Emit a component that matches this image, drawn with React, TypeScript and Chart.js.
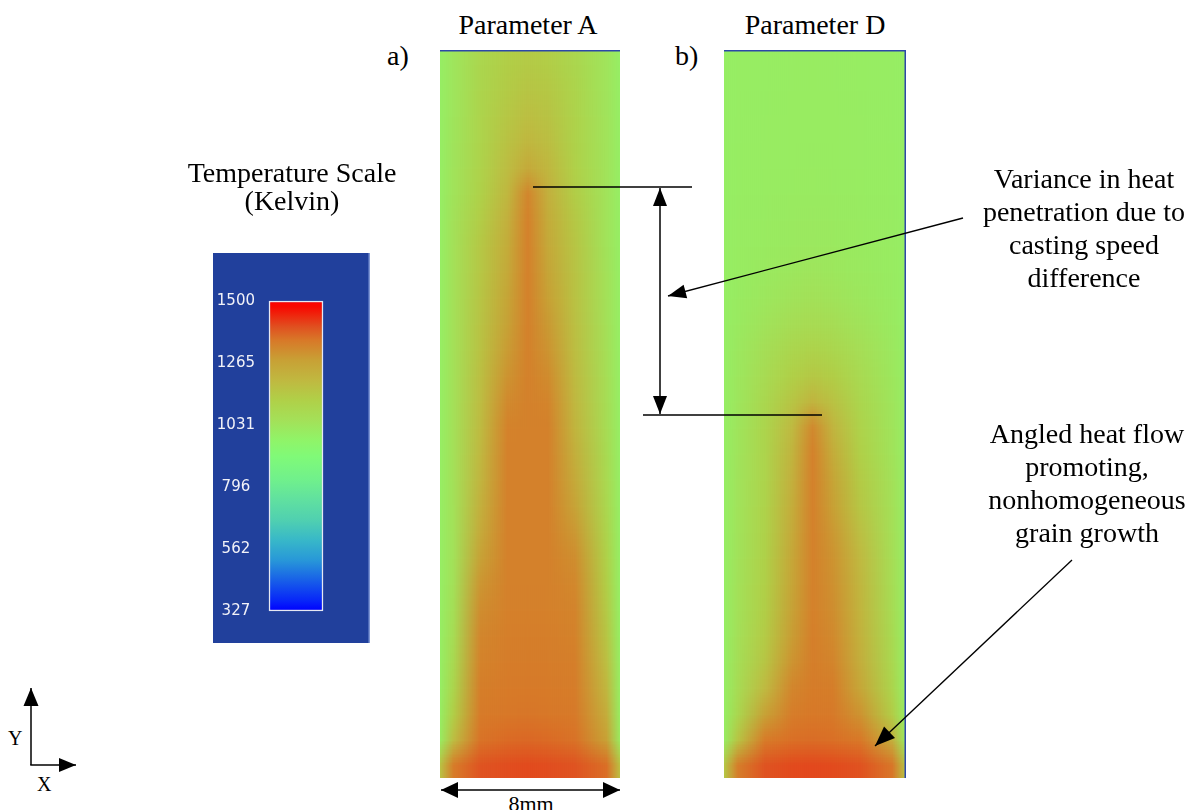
import React, { useEffect, useRef } from 'react';
import { Chart, registerables } from 'chart.js';

Chart.register(...registerables);

// ---------- data ----------
const PANEL_WIDTH_MM = 8;
// sample positions across each panel (mm from the left edge)
const X_MM = [0, 0.6, 1.8, 3, 3.9, 4.8, 6, 7.4, 8];

// Parameter A: temperature (K) per row (top -> bottom) at X_MM positions
const TEMP_A = [
  [995, 1030, 1095, 1130, 1145, 1135, 1095, 1035, 995],
  [995, 1030, 1100, 1140, 1160, 1150, 1105, 1035, 995],
  [995, 1032, 1105, 1155, 1180, 1165, 1110, 1038, 995],
  [995, 1035, 1108, 1168, 1205, 1182, 1115, 1040, 995],
  [995, 1038, 1112, 1185, 1245, 1205, 1122, 1040, 995],
  [995, 1040, 1120, 1205, 1325, 1225, 1135, 1040, 995],
  [995, 1045, 1135, 1225, 1334, 1240, 1150, 1040, 995],
  [995, 1050, 1150, 1240, 1335, 1250, 1160, 1040, 995],
  [995, 1050, 1155, 1250, 1335, 1262, 1165, 1045, 995],
  [995, 1050, 1160, 1260, 1335, 1275, 1170, 1048, 995],
  [995, 1050, 1165, 1272, 1335, 1288, 1175, 1052, 995],
  [995, 1050, 1170, 1285, 1335, 1300, 1182, 1056, 995],
  [995, 1050, 1178, 1300, 1335, 1315, 1190, 1060, 995],
  [995, 1050, 1185, 1318, 1335, 1328, 1200, 1065, 995],
  [995, 1050, 1192, 1332, 1335, 1335, 1212, 1070, 995],
  [995, 1050, 1200, 1335, 1335, 1335, 1228, 1078, 995],
  [995, 1050, 1210, 1335, 1335, 1335, 1245, 1085, 995],
  [995, 1048, 1225, 1335, 1335, 1335, 1265, 1092, 995],
  [995, 1045, 1245, 1335, 1335, 1335, 1290, 1105, 995],
  [995, 1045, 1270, 1335, 1335, 1335, 1310, 1120, 995],
  [995, 1050, 1295, 1335, 1335, 1335, 1322, 1132, 995],
  [995, 1058, 1312, 1336, 1337, 1336, 1330, 1145, 995],
  [995, 1068, 1325, 1338, 1340, 1338, 1334, 1160, 998],
  [995, 1082, 1332, 1342, 1344, 1342, 1338, 1180, 1000],
  [995, 1100, 1340, 1346, 1348, 1346, 1342, 1205, 1002],
  [1000, 1130, 1346, 1352, 1355, 1352, 1348, 1235, 1006],
  [1005, 1185, 1358, 1368, 1372, 1368, 1360, 1275, 1015],
  [1170, 1345, 1398, 1405, 1408, 1405, 1398, 1365, 1180],
];

// Parameter D: temperature (K) per row (top -> bottom) at X_MM positions
const TEMP_D = [
  [995, 1000, 1002, 1004, 1005, 1004, 1002, 1000, 995],
  [995, 1000, 1002, 1004, 1005, 1004, 1002, 1000, 995],
  [995, 1000, 1003, 1005, 1006, 1005, 1003, 1000, 995],
  [995, 1000, 1003, 1005, 1006, 1005, 1003, 1000, 995],
  [995, 1001, 1004, 1006, 1008, 1006, 1004, 1001, 995],
  [995, 1002, 1005, 1008, 1010, 1008, 1005, 1002, 995],
  [995, 1003, 1008, 1012, 1014, 1012, 1008, 1003, 995],
  [995, 1004, 1010, 1016, 1018, 1016, 1010, 1004, 995],
  [995, 1005, 1015, 1025, 1030, 1025, 1015, 1005, 995],
  [995, 1008, 1025, 1040, 1048, 1040, 1025, 1008, 995],
  [995, 1012, 1040, 1065, 1075, 1065, 1040, 1012, 995],
  [995, 1018, 1058, 1095, 1110, 1095, 1060, 1018, 995],
  [995, 1022, 1075, 1125, 1150, 1130, 1080, 1025, 995],
  [995, 1028, 1090, 1160, 1215, 1170, 1095, 1030, 995],
  [995, 1032, 1100, 1195, 1320, 1210, 1110, 1035, 995],
  [995, 1035, 1105, 1215, 1334, 1240, 1125, 1040, 995],
  [995, 1037, 1108, 1225, 1335, 1260, 1140, 1045, 995],
  [995, 1038, 1110, 1235, 1335, 1275, 1155, 1050, 995],
  [995, 1040, 1115, 1245, 1335, 1290, 1175, 1055, 995],
  [995, 1042, 1120, 1255, 1335, 1300, 1195, 1060, 995],
  [995, 1045, 1125, 1262, 1335, 1305, 1205, 1065, 995],
  [995, 1048, 1132, 1270, 1336, 1310, 1212, 1070, 995],
  [995, 1052, 1142, 1282, 1338, 1318, 1220, 1078, 995],
  [995, 1058, 1160, 1300, 1340, 1328, 1232, 1088, 995],
  [995, 1068, 1195, 1325, 1344, 1340, 1255, 1102, 995],
  [998, 1090, 1270, 1342, 1350, 1348, 1300, 1135, 1000],
  [1002, 1160, 1345, 1362, 1366, 1362, 1350, 1225, 1008],
  [1150, 1340, 1398, 1408, 1410, 1408, 1400, 1355, 1160],
];

// temperature scale
const SCALE_TICKS = [1500, 1265, 1031, 796, 562, 327];
const SCALE_MIN = 327;
const SCALE_MAX = 1500;

// colour map (temperature -> colour)
const CMAP_T = [327, 369, 444, 520, 596, 671, 747, 823, 911, 974, 1050, 1125, 1201, 1277, 1352, 1402, 1478, 1500];
const CMAP_C = ['#0000ff', '#0828f8', '#1860e8', '#2898d8', '#38b8c8', '#50d0b0', '#60e0a0', '#70f08c', '#80fa78', '#90f468', '#a4e058', '#b0d048', '#c0b840', '#c8a035', '#d87828', '#e05020', '#f80800', '#ff0000'];

// ---------- helpers ----------
const toRgb = (h: string) => [parseInt(h.slice(1, 3), 16), parseInt(h.slice(3, 5), 16), parseInt(h.slice(5, 7), 16)];
const CMAP_RGB = CMAP_C.map(toRgb);

function tempColor(t: number): string {
  if (t <= CMAP_T[0]) return CMAP_C[0];
  for (let i = 1; i < CMAP_T.length; i++) {
    if (t <= CMAP_T[i]) {
      const f = (t - CMAP_T[i - 1]) / (CMAP_T[i] - CMAP_T[i - 1]);
      const a = CMAP_RGB[i - 1];
      const b = CMAP_RGB[i];
      const c = a.map((v, k) => Math.round(v + (b[k] - v) * f));
      return `rgb(${c[0]},${c[1]},${c[2]})`;
    }
  }
  return CMAP_C[CMAP_C.length - 1];
}

// Renders the row cells with bilinear shading between row centres (like a shaded heat map)
const softCells = {
  id: 'softCells',
  afterDatasetsDraw(chart: any) {
    const { ctx, chartArea: a, canvas } = chart;
    const meta = chart.getDatasetMeta(0);
    const n = meta.data.length;
    const w = Math.round(a.width);
    const h = Math.round(a.height);
    const off = document.createElement('canvas');
    off.width = w;
    off.height = n;
    const o = off.getContext('2d')!;
    o.imageSmoothingEnabled = false;
    o.drawImage(canvas, a.left, a.top, w, h, 0, 0, w, n);
    ctx.save();
    ctx.imageSmoothingEnabled = true;
    ctx.imageSmoothingQuality = 'low';
    ctx.clearRect(a.left, a.top, w, h);
    ctx.drawImage(off, 0, 0, w, n, a.left, a.top, w, h);
    ctx.restore();
  },
  afterDraw(chart: any, _args: any, opts: any) {
    const { ctx, width, height } = chart;
    ctx.save();
    ctx.strokeStyle = '#2c48a8';
    ctx.lineWidth = 1.5;
    ctx.beginPath();
    ctx.moveTo(0, 0.75);
    ctx.lineTo(width, 0.75);
    if (opts.rightEdge) {
      ctx.moveTo(width - 0.75, 0);
      ctx.lineTo(width - 0.75, height);
    }
    ctx.stroke();
    ctx.restore();
  },
};

function makeHeat(canvas: HTMLCanvasElement, temps: number[][], rightEdge: boolean) {
  return new Chart(canvas, {
    type: 'bar',
    data: {
      labels: temps.map((_, i) => String(i)),
      datasets: [
        {
          data: temps.map(() => [0, PANEL_WIDTH_MM]) as any,
          backgroundColor: (c: any) => {
            const chart = c.chart;
            if (!chart.chartArea || c.dataIndex === undefined) return '#98f060';
            const xs = chart.scales.x;
            const g = chart.ctx.createLinearGradient(xs.getPixelForValue(0), 0, xs.getPixelForValue(PANEL_WIDTH_MM), 0);
            const row = temps[c.dataIndex];
            X_MM.forEach((mm, j) => g.addColorStop(mm / PANEL_WIDTH_MM, tempColor(row[j])));
            return g;
          },
          borderWidth: 0,
          barPercentage: 1,
          categoryPercentage: 1,
        },
      ],
    },
    options: {
      indexAxis: 'y',
      animation: false,
      responsive: false,
      maintainAspectRatio: false,
      events: [],
      layout: { padding: 0 },
      plugins: {
        legend: { display: false },
        tooltip: { enabled: false },
        softCells: { rightEdge },
      } as any,
      scales: {
        x: { type: 'linear', min: 0, max: PANEL_WIDTH_MM, display: false },
        y: { display: false },
      },
    },
    plugins: [softCells],
  });
}

const scaleBackground = {
  id: 'scaleBackground',
  beforeDraw(chart: any) {
    const { ctx, width, height } = chart;
    ctx.save();
    ctx.fillStyle = '#21409c';
    ctx.fillRect(0, 0, width, height);
    ctx.strokeStyle = '#7f96d4';
    ctx.lineWidth = 1.5;
    ctx.beginPath();
    ctx.moveTo(width - 0.75, 0);
    ctx.lineTo(width - 0.75, height);
    ctx.stroke();
    ctx.restore();
  },
};

function makeScale(canvas: HTMLCanvasElement) {
  return new Chart(canvas, {
    type: 'bar',
    data: {
      labels: ['K'],
      datasets: [
        {
          data: [[SCALE_MIN, SCALE_MAX]] as any,
          backgroundColor: (c: any) => {
            const chart = c.chart;
            if (!chart.chartArea) return '#80fa78';
            const ys = chart.scales.y;
            const g = chart.ctx.createLinearGradient(0, ys.getPixelForValue(SCALE_MIN), 0, ys.getPixelForValue(SCALE_MAX));
            CMAP_T.forEach((t, i) => g.addColorStop((t - SCALE_MIN) / (SCALE_MAX - SCALE_MIN), CMAP_C[i]));
            return g;
          },
          borderColor: '#e6e8f2',
          borderWidth: 1.5,
          borderSkipped: false,
          barPercentage: 1,
          categoryPercentage: 1,
          clip: false as any,
        },
      ],
    },
    options: {
      animation: false,
      responsive: false,
      maintainAspectRatio: false,
      events: [],
      layout: { padding: { left: 0, top: 48, right: 47, bottom: 32 } },
      plugins: { legend: { display: false }, tooltip: { enabled: false } },
      scales: {
        x: { display: false },
        y: {
          min: SCALE_MIN,
          max: SCALE_MAX,
          afterBuildTicks: (s: any) => {
            s.ticks = SCALE_TICKS.map((v) => ({ value: v }));
          },
          afterFit: (s: any) => {
            s.width = 56;
          },
          grid: { display: false, drawTicks: false },
          border: { display: false },
          ticks: {
            color: '#f2f2f8',
            font: { family: '"DejaVu Sans", sans-serif', size: 15 },
            crossAlign: 'center',
            padding: 14,
            autoSkip: false,
            callback: (v: any) => String(v),
          },
        },
      },
    },
    plugins: [scaleBackground],
  });
}

// ---------- text & arrows ----------
const SERIF = '"Liberation Serif", "Times New Roman", serif';

function Txt(props: { lines: string[]; cx?: number; left?: number; baseline: number; size: number; lh: number }) {
  const { lines, cx, left, baseline, size, lh } = props;
  const off = lh / 2 + 0.3375 * size;
  const style: React.CSSProperties = {
    position: 'absolute',
    top: baseline - off,
    fontFamily: SERIF,
    fontSize: size,
    lineHeight: `${lh}px`,
    color: '#000',
    whiteSpace: 'pre',
  };
  if (cx !== undefined) {
    style.left = cx - 250;
    style.width = 500;
    style.textAlign = 'center';
  } else {
    style.left = left;
  }
  return <div style={style}>{lines.join('\n')}</div>;
}

function head(x1: number, y1: number, x2: number, y2: number, len = 18, half = 7) {
  const dx = x2 - x1;
  const dy = y2 - y1;
  const d = Math.hypot(dx, dy);
  const ux = dx / d;
  const uy = dy / d;
  const bx = x2 - ux * len;
  const by = y2 - uy * len;
  return `${x2},${y2} ${bx - uy * half},${by + ux * half} ${bx + uy * half},${by - ux * half}`;
}

function Arrow(p: { x1: number; y1: number; x2: number; y2: number; both?: boolean; len?: number; half?: number; w?: number }) {
  const { x1, y1, x2, y2, both, len = 18, half = 7, w = 1.5 } = p;
  return (
    <g>
      <line x1={x1} y1={y1} x2={x2} y2={y2} stroke="#000" strokeWidth={w} />
      <polygon points={head(x1, y1, x2, y2, len, half)} fill="#000" />
      {both ? <polygon points={head(x2, y2, x1, y1, len, half)} fill="#000" /> : null}
    </g>
  );
}

export default function App() {
  const aRef = useRef<HTMLCanvasElement>(null);
  const dRef = useRef<HTMLCanvasElement>(null);
  const sRef = useRef<HTMLCanvasElement>(null);

  useEffect(() => {
    const charts = [
      makeHeat(aRef.current!, TEMP_A, false),
      makeHeat(dRef.current!, TEMP_D, true),
      makeScale(sRef.current!),
    ];
    return () => charts.forEach((c) => c.destroy());
  }, []);

  return (
    <div style={{ position: 'absolute', left: 0, top: 0, width: 1195, height: 810, background: '#fff', overflow: 'hidden' }}>
      <canvas ref={aRef} width={180} height={728} style={{ position: 'absolute', left: 440, top: 50, width: 180, height: 728 }} />
      <canvas ref={dRef} width={182} height={728} style={{ position: 'absolute', left: 724, top: 50, width: 182, height: 728 }} />
      <canvas ref={sRef} width={157} height={390} style={{ position: 'absolute', left: 213, top: 253, width: 157, height: 390 }} />

      <Txt lines={['Parameter A']} cx={528} baseline={34} size={28} lh={33} />
      <Txt lines={['Parameter D']} cx={815} baseline={34} size={28} lh={33} />
      <Txt lines={['a)']} left={387} baseline={65} size={28} lh={33} />
      <Txt lines={['b)']} left={675} baseline={65} size={28} lh={33} />
      <Txt lines={['Temperature Scale', '(Kelvin)']} cx={292} baseline={182} size={28} lh={28} />
      <Txt lines={['Variance in heat', 'penetration due to', 'casting speed', 'difference']} cx={1084} baseline={188} size={28} lh={33} />
      <Txt lines={['Angled heat flow', 'promoting,', 'nonhomogeneous', 'grain growth']} cx={1087} baseline={443} size={28} lh={33} />
      <Txt lines={['Y']} left={8} baseline={745} size={20} lh={20} />
      <Txt lines={['X']} left={37} baseline={791} size={20} lh={20} />
      <Txt lines={[`${PANEL_WIDTH_MM}mm`]} cx={531} baseline={811} size={22} lh={22} />

      <svg width={1195} height={810} style={{ position: 'absolute', left: 0, top: 0, pointerEvents: 'none' }}>
        <line x1={533} y1={187} x2={692} y2={187} stroke="#000" strokeWidth={1.5} />
        <line x1={643} y1={415} x2={822} y2={415} stroke="#000" strokeWidth={1.5} />
        <Arrow x1={660} y1={414} x2={660} y2={188} both len={18} half={7} />
        <Arrow x1={963} y1={218} x2={668} y2={296} len={18} half={7} w={1.3} />
        <Arrow x1={1072} y1={560} x2={875} y2={746} len={20} half={8} w={1.3} />
        <Arrow x1={31} y1={765} x2={31} y2={688} len={18} half={7.5} w={1.5} />
        <Arrow x1={30.25} y1={765} x2={76} y2={765} len={17} half={7} w={1.5} />
        <Arrow x1={441} y1={790} x2={620} y2={790} both len={17} half={8} w={1.5} />
      </svg>
    </div>
  );
}
